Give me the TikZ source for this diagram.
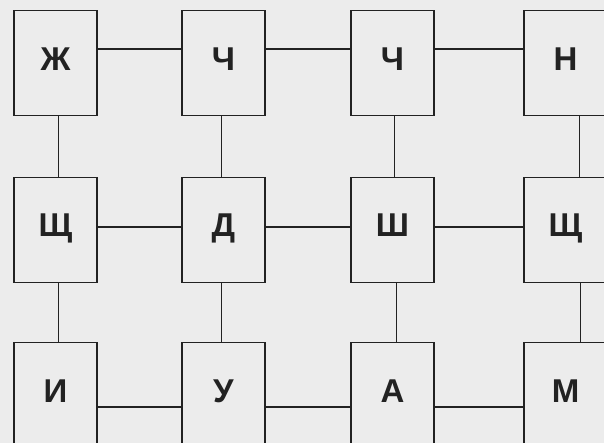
\documentclass[tikz,border=0pt]{standalone}
\usepackage{fontspec}
\setmainfont{Liberation Sans}
\definecolor{paper}{HTML}{ECECEC}
\definecolor{ink}{HTML}{222222}
\begin{document}
\begin{tikzpicture}[x=1pt,y=-1pt,
  cell/.style={draw=ink,line width=1.8pt,minimum width=83pt,minimum height=105pt,inner sep=0pt},
  letter/.style={font=\fontsize{33}{33}\selectfont\bfseries,text=ink,inner sep=0pt,anchor=base},
  link/.style={draw=ink,line width=1.8pt}]
\fill[paper] (0,0) rectangle (604,443);
\useasboundingbox (0,0) rectangle (604,443);
% boxes
\node[cell] (b11) at (55.5,63) {};
\node[cell] (b12) at (223.5,63) {};
\node[cell] (b13) at (392.5,63) {};
\node[cell] (b14) at (565.5,63) {};
\node[cell] (b21) at (55.5,230) {};
\node[cell] (b22) at (223.5,230) {};
\node[cell] (b23) at (392.5,230) {};
\node[cell] (b24) at (565.5,230) {};
\node[cell] (b31) at (55.5,395) {};
\node[cell] (b32) at (223.5,395) {};
\node[cell] (b33) at (392.5,395) {};
\node[cell] (b34) at (565.5,395) {};
% letters
\node[letter] (l11) at ([yshift=-7.5pt]b11.center) {Ж};
\node[letter] (l12) at ([yshift=-7.5pt]b12.center) {Ч};
\node[letter] (l13) at ([yshift=-7.5pt]b13.center) {Ч};
\node[letter] (l14) at ([yshift=-7.5pt]b14.center) {Н};
\node[letter] (l21) at ([yshift=-7pt]b21.center) {Щ};
\node[letter] (l22) at ([yshift=-7pt]b22.center) {Д};
\node[letter] (l23) at ([yshift=-7pt]b23.center) {Ш};
\node[letter] (l24) at ([yshift=-7pt]b24.center) {Щ};
\node[letter] (l31) at ([yshift=-7pt]b31.center) {И};
\node[letter] (l32) at ([yshift=-7pt]b32.center) {У};
\node[letter] (l33) at ([yshift=-7pt]b33.center) {А};
\node[letter] (l34) at ([yshift=-7pt]b34.center) {М};
% horizontal links
\foreach \a/\b in {b11/b12,b12/b13,b13/b14}
  \draw[link] ([yshift=14pt]\a.east) -- ([yshift=14pt]\b.west);
\foreach \a/\b in {b21/b22,b22/b23,b23/b24}
  \draw[link] ([yshift=3pt]\a.east) -- ([yshift=3pt]\b.west);
\foreach \a/\b in {b31/b32,b32/b33,b33/b34}
  \draw[link] ([yshift=-12pt]\a.east) -- ([yshift=-12pt]\b.west);
% vertical links
\draw[link] ([xshift=3pt]b11.south) -- ([xshift=3pt]b21.north);
\draw[link] ([xshift=3pt]b21.south) -- ([xshift=3pt]b31.north);
\draw[link] ([xshift=-2pt]b12.south) -- ([xshift=-2pt]b22.north);
\draw[link] ([xshift=-2pt]b22.south) -- ([xshift=-2pt]b32.north);
\draw[link] ([xshift=2pt]b13.south) -- ([xshift=2pt]b23.north);
\draw[link] ([xshift=4pt]b23.south) -- ([xshift=4pt]b33.north);
\draw[link] ([xshift=14pt]b14.south) -- ([xshift=14pt]b24.north);
\draw[link] ([xshift=15pt]b24.south) -- ([xshift=15pt]b34.north);
\end{tikzpicture}
\end{document}
